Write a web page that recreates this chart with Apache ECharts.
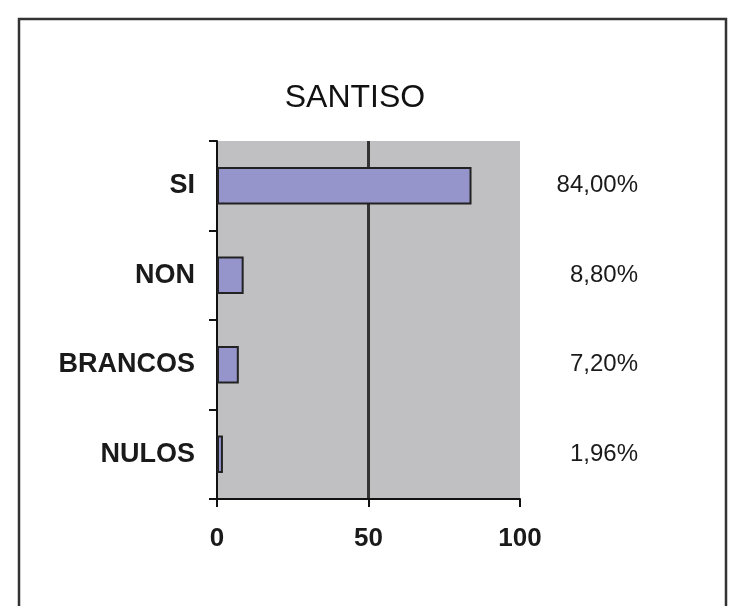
<!DOCTYPE html>
<html>
<head>
<meta charset="utf-8">
<script src="https://cdn.jsdelivr.net/npm/echarts@6/dist/echarts.min.js"></script>
<style>
html,body{margin:0;padding:0;background:#fff;}
#c{width:730px;height:606px;}
</style>
</head>
<body>
<div id="c"></div>
<script>
var titleText = 'SANTISO';
var categories = ['SI', 'NON', 'BRANCOS', 'NULOS'];
var values = [84, 8.8, 7.2, 1.96];
var pctLabels = ['84,00%', '8,80%', '7,20%', '1,96%'];
var xTicks = [0, 50, 100];

var chart = echarts.init(document.getElementById('c'), null, {renderer: 'canvas'});
var font = '"Liberation Sans", Arial, sans-serif';
chart.setOption({
  animation: false,
  backgroundColor: '#ffffff',
  graphic: [{
    type: 'rect',
    shape: {x: 19, y: 19, width: 707, height: 700},
    style: {fill: 'none', stroke: '#333333', lineWidth: 2.5},
    silent: true
  }],
  title: {
    text: titleText,
    left: 350, top: 77,
    textAlign: 'center',
    textStyle: {fontFamily: font, fontSize: 32, fontWeight: 'normal', color: '#111'}
  },
  grid: {
    left: 217, right: 210, top: 141, bottom: 107,
    show: true, backgroundColor: '#c0c0c2', borderWidth: 0
  },
  xAxis: {
    type: 'value',
    min: xTicks[0], max: xTicks[xTicks.length - 1], interval: 50,
    axisLine: {show: true, lineStyle: {color: '#111', width: 2}},
    axisTick: {show: true, length: 8, lineStyle: {color: '#111', width: 2}},
    axisLabel: {margin: 27, fontFamily: font, fontSize: 26, fontWeight: 'bold', color: '#1a1a1a'},
    splitLine: {show: true, showMinLine: false, showMaxLine: false, lineStyle: {color: '#333', width: 3}}
  },
  yAxis: [{
    type: 'category',
    data: categories,
    inverse: true,
    axisLine: {show: true, lineStyle: {color: '#111', width: 2}},
    axisTick: {show: true, length: 8, lineStyle: {color: '#111', width: 2}},
    axisLabel: {margin: 22, fontFamily: font, fontSize: 27, fontWeight: 'bold', color: '#1a1a1a'},
    splitLine: {show: false}
  }, {
    type: 'category',
    data: pctLabels,
    inverse: true,
    position: 'right',
    axisLine: {show: false},
    axisTick: {show: false},
    axisLabel: {margin: 118, align: 'right', fontFamily: font, fontSize: 24, color: '#1a1a1a'},
    splitLine: {show: false}
  }],
  series: [{
    type: 'bar',
    data: values,
    yAxisIndex: 0,
    barCategoryGap: '58%',
    itemStyle: {color: '#9594cb', borderColor: '#222', borderWidth: 2}
  }]
});
</script>
</body>
</html>
